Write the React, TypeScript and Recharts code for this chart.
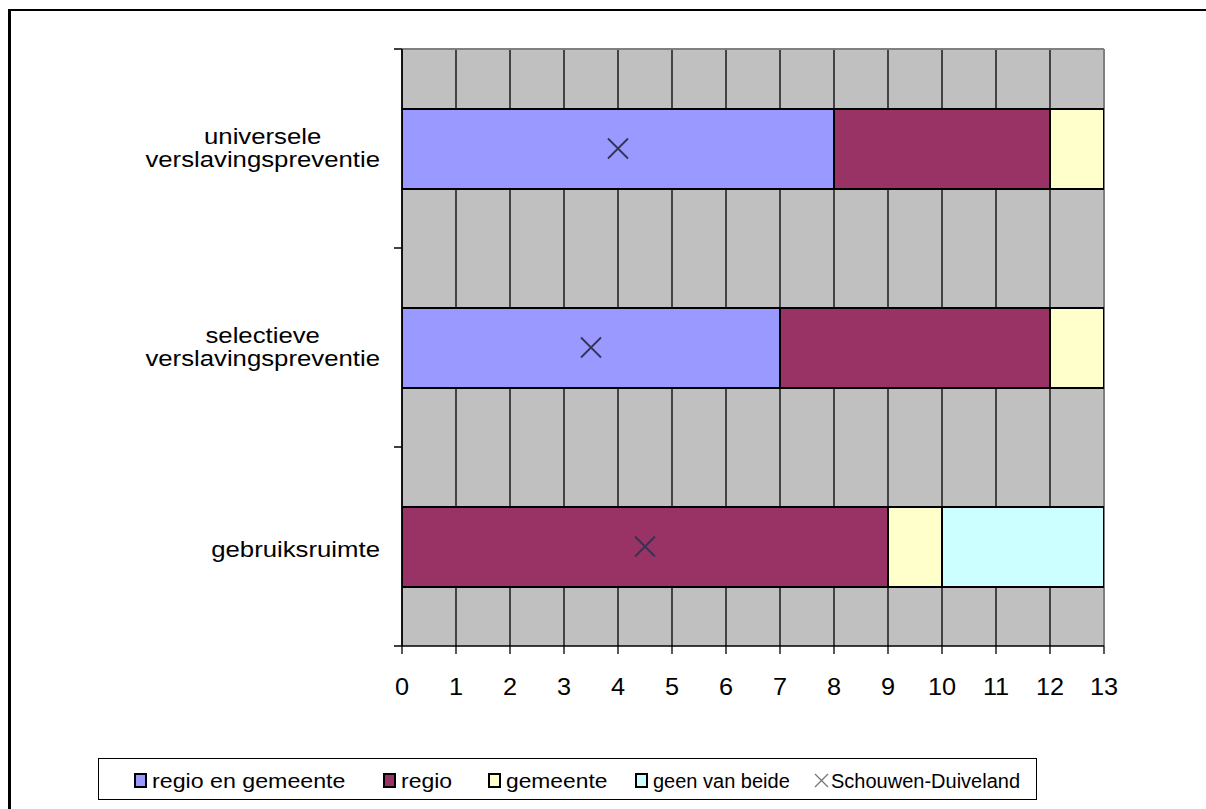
import React from 'react';
import {
  ComposedChart,
  Bar,
  Scatter,
  XAxis,
  YAxis,
  CartesianGrid,
  Legend,
} from 'recharts';

// ---------- data ----------
const categories = [
  'universele verslavingspreventie',
  'selectieve verslavingspreventie',
  'gebruiksruimte',
];
const categoryLines = [
  ['universele', 'verslavingspreventie'],
  ['selectieve', 'verslavingspreventie'],
  ['gebruiksruimte'],
];
const regioEnGemeente = [8, 7, 0];
const regio = [4, 5, 9];
const gemeente = [1, 1, 1];
const geenVanBeide = [0, 0, 3];
const schouwenDuiveland = [4, 3.5, 4.5];
const xTicks = [0, 1, 2, 3, 4, 5, 6, 7, 8, 9, 10, 11, 12, 13];

const seriesNames = ['regio en gemeente', 'regio', 'gemeente', 'geen van beide', 'Schouwen-Duiveland'];
const seriesColors = ['#9999FF', '#993366', '#FFFFCC', '#CCFFFF', '#333355'];

const data = categories.map((c, i) => ({
  name: c,
  rg: regioEnGemeente[i],
  r: regio[i],
  g: gemeente[i],
  n: geenVanBeide[i],
  sd: schouwenDuiveland[i],
}));

// ---------- styling ----------
const FONT = '"Liberation Sans", Arial, sans-serif';
const CAT_SIZE = 22;
const CAT_SX = 1.17;
const TICK_SIZE = 23;
const TICK_SX = 1.1;
const Y_MARGIN = 22;
const Y_TICK_LEN = 8;

let ctx: CanvasRenderingContext2D | null = null;
function measure(text: string, size: number): number {
  if (!ctx) ctx = document.createElement('canvas').getContext('2d');
  if (!ctx) return text.length * size * 0.5;
  ctx.font = `${size}px "Liberation Sans"`;
  return ctx.measureText(text).width;
}

const YTick = (props: any) => {
  const { x, y, payload, index, visibleTicksCount } = props;
  const idx = categories.indexOf(payload.value);
  const lines = idx >= 0 ? categoryLines[idx] : [String(payload.value)];
  const widths = lines.map((l) => measure(l, CAT_SIZE) * CAT_SX);
  const block = Math.max(...widths);
  const cx = x - block / 2;
  const offsets = lines.length === 2 ? [-4.5, 18.5] : [10.5];
  const axisX = x + Y_MARGIN;
  const half = typeof payload.offset === 'number' ? payload.offset : 0;
  const count = visibleTicksCount ?? categories.length;
  return (
    <g>
      {half > 0 && (
        <line x1={axisX - Y_TICK_LEN} x2={axisX} y1={y - half} y2={y - half} stroke="#000" strokeWidth={1.5} />
      )}
      {half > 0 && index === count - 1 && (
        <line x1={axisX - Y_TICK_LEN} x2={axisX} y1={y + half} y2={y + half} stroke="#000" strokeWidth={1.5} />
      )}
      {lines.map((l, i) => (
        <text
          key={i}
          x={0}
          y={0}
          transform={`translate(${cx},${y + offsets[i]}) scale(${CAT_SX},1)`}
          textAnchor="middle"
          fontFamily={FONT}
          fontSize={CAT_SIZE}
          fill="#000"
        >
          {l}
        </text>
      ))}
    </g>
  );
};

const XTick = (props: any) => {
  const { x, y, payload } = props;
  return (
    <text
      x={0}
      y={0}
      transform={`translate(${x},${y + 41}) scale(${TICK_SX},1)`}
      textAnchor="middle"
      fontFamily={FONT}
      fontSize={TICK_SIZE}
      fill="#000"
    >
      {payload.value}
    </text>
  );
};

const XShape = (props: any) => {
  const { cx, cy } = props;
  if (cx == null || cy == null) return null;
  const h = 10;
  return (
    <path
      d={`M${cx - h},${cy - h}L${cx + h},${cy + h}M${cx - h},${cy + h}L${cx + h},${cy - h}`}
      stroke={seriesColors[4]}
      strokeWidth={1.8}
      fill="none"
    />
  );
};

const legendLefts = [35, 284, 389, 536, 715];
const legendStretch = [1.16, 1.15, 1.14, 1.0, 1.0];

const LegendContent = () => (
  <div
    style={{
      position: 'relative',
      width: 939,
      height: 42,
      border: '1px solid #000',
      boxSizing: 'border-box',
      background: '#fff',
      fontFamily: FONT,
    }}
  >
    {seriesNames.map((name, i) => {
      const left = legendLefts[i];
      const isX = i === 4;
      return (
        <React.Fragment key={name}>
          {isX ? (
            <svg width={15} height={15} style={{ position: 'absolute', left, top: 14 }}>
              <path d="M1,1L14,14M1,14L14,1" stroke="#777" strokeWidth={1.3} fill="none" />
            </svg>
          ) : (
            <div
              style={{
                position: 'absolute',
                left,
                top: 14,
                width: 13,
                height: 15,
                boxSizing: 'border-box',
                border: '2.5px solid #000',
                background: seriesColors[i],
              }}
            />
          )}
          <span
            style={{
              position: 'absolute',
              left: left + (isX ? 17 : 18),
              top: 12,
              fontSize: 20,
              lineHeight: '20px',
              whiteSpace: 'nowrap',
              transform: `scaleX(${legendStretch[i]})`,
              transformOrigin: 'left center',
              color: '#000',
            }}
          >
            {name}
          </span>
        </React.Fragment>
      );
    })}
  </div>
);

export default function App() {
  return (
    <div style={{ position: 'relative', width: 1190, height: 793 }}>
      <div style={{ position: 'absolute', left: 0, top: 0 }}>
        <ComposedChart
          width={1190}
          height={793}
          data={data}
          layout="vertical"
          margin={{ top: 41, right: 94, bottom: 63, left: 0 }}
        >
          <CartesianGrid
            horizontal={false}
            vertical
            fill="#C0C0C0"
            stroke="#000"
            strokeWidth={1.3}
          />
          <CartesianGrid
            fill="none"
            stroke="#808080"
            strokeWidth={2}
            horizontalCoordinatesGenerator={(p: any) => [p.offset.top]}
            verticalCoordinatesGenerator={(p: any) => [p.offset.left + p.offset.width]}
          />
          <XAxis
            type="number"
            domain={[0, 13]}
            ticks={xTicks}
            interval={0}
            tickSize={8}
            tickMargin={0}
            height={50}
            allowDataOverflow
            axisLine={{ stroke: '#000', strokeWidth: 1.5 }}
            tickLine={{ stroke: '#000', strokeWidth: 1.3 }}
            tick={<XTick />}
          />
          <YAxis
            type="category"
            dataKey="name"
            width={394}
            interval={0}
            tickLine={false}
            tickSize={0}
            tickMargin={Y_MARGIN}
            axisLine={{ stroke: '#000', strokeWidth: 1.5 }}
            tick={<YTick />}
          />
          <Bar dataKey="rg" name={seriesNames[0]} stackId="a" fill={seriesColors[0]} stroke="#000" strokeWidth={2} barSize={80} isAnimationActive={false} />
          <Bar dataKey="r" name={seriesNames[1]} stackId="a" fill={seriesColors[1]} stroke="#000" strokeWidth={2} barSize={80} isAnimationActive={false} />
          <Bar dataKey="g" name={seriesNames[2]} stackId="a" fill={seriesColors[2]} stroke="#000" strokeWidth={2} barSize={80} isAnimationActive={false} />
          <Bar dataKey="n" name={seriesNames[3]} stackId="a" fill={seriesColors[3]} stroke="#000" strokeWidth={2} barSize={80} isAnimationActive={false} />
          <Scatter dataKey="sd" name={seriesNames[4]} shape={<XShape />} isAnimationActive={false} />
          <Legend
            content={<LegendContent />}
            wrapperStyle={{ position: 'absolute', left: 90, top: 750, bottom: 'auto', width: 939, height: 42 }}
          />
        </ComposedChart>
      </div>
      <div
        style={{
          position: 'fixed',
          left: 8,
          top: 9,
          width: 1400,
          height: 1000,
          borderTop: '2px solid #000',
          borderLeft: '3px solid #000',
          pointerEvents: 'none',
        }}
      />
    </div>
  );
}
